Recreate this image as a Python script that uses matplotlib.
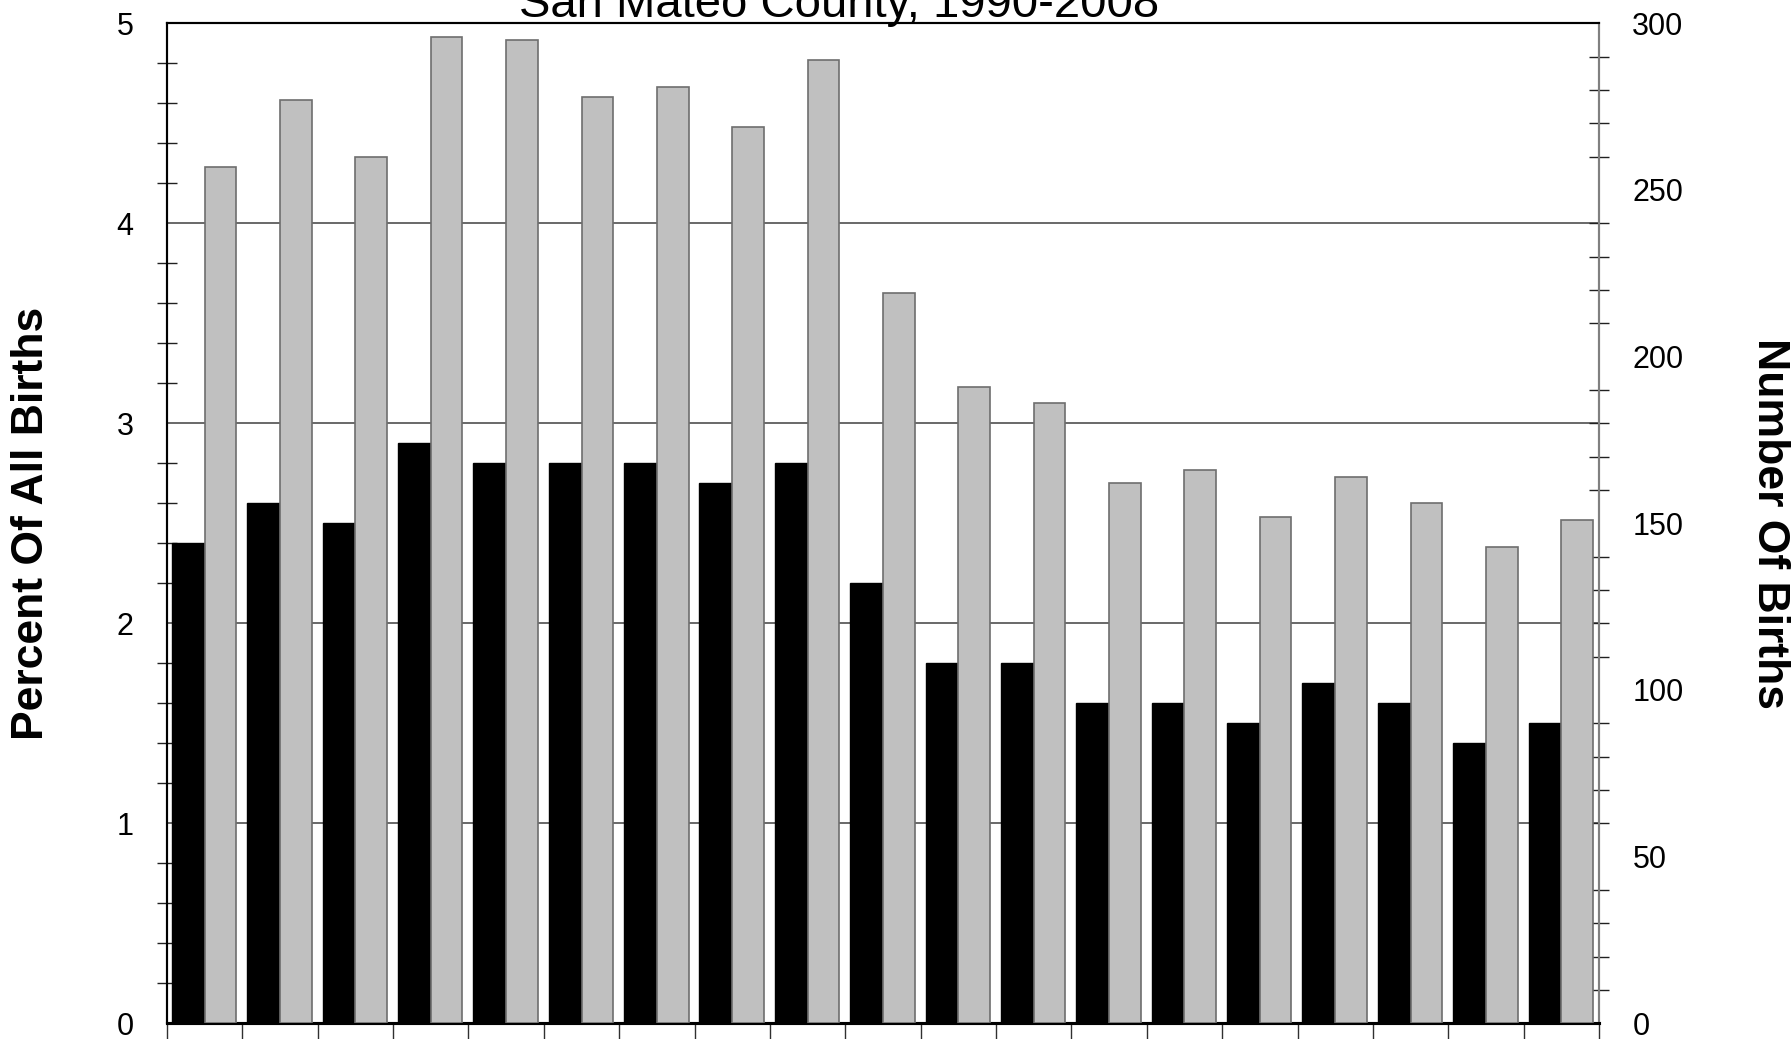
import matplotlib
matplotlib.use("Agg")
from matplotlib import pyplot as plt
from matplotlib.ticker import MultipleLocator
import numpy as np

plt.rcParams['font.family'] = ['Liberation Sans', 'DejaVu Sans']

years = [1990, 1991, 1992, 1993, 1994, 1995, 1996, 1997, 1998, 1999,
         2000, 2001, 2002, 2003, 2004, 2005, 2006, 2007, 2008]
percent = [2.4, 2.6, 2.5, 2.9, 2.8, 2.8, 2.8, 2.7, 2.8, 2.2,
           1.8, 1.8, 1.6, 1.6, 1.5, 1.7, 1.6, 1.4, 1.5]
births = [257, 277, 260, 296, 295, 278, 281, 269, 289, 219,
          191, 186, 162, 166, 152, 164, 156, 143, 151]

W, H = 1792, 1039
fig = plt.figure(figsize=(W / 100, H / 100), dpi=100)
ax = fig.add_axes([167 / W, 15.7 / H, (1599 - 167) / W, (1023.3 - 23.3) / H])
ax2 = ax.twinx()

pos = np.arange(len(years))

# percent bars (left axis)
ax.bar(pos + 0.065, percent, width=0.435, align='edge',
       color='black', edgecolor='black', linewidth=1, zorder=3)
# number of births (right axis)
ax2.bar(pos + 0.5, births, width=0.42, align='edge',
        color='#c0c0c0', edgecolor='#6e6e6e', linewidth=1.2, zorder=3)

ax.set_xlim(0, len(years))
ax.set_ylim(0, 5)
ax2.set_ylim(0, 300)

for y in [1, 2, 3, 4]:
    ax.axhline(y, color='#404040', linewidth=1.1, zorder=1)

ax.yaxis.set_major_locator(MultipleLocator(1))
ax.yaxis.set_minor_locator(MultipleLocator(0.2))
ax2.yaxis.set_major_locator(MultipleLocator(50))
ax2.yaxis.set_minor_locator(MultipleLocator(10))

ax.tick_params(axis='y', which='major', length=0, pad=24, labelsize=22)
ax.tick_params(axis='y', which='minor', direction='inout', length=15,
               width=1, color='#202020')
ax2.tick_params(axis='y', which='major', length=0, pad=24, labelsize=22)
ax2.tick_params(axis='y', which='minor', direction='inout', length=15,
                width=1, color='#202020')

ax.set_xticks(np.arange(len(years) + 1))
ax.set_xticklabels([])
ax.tick_params(axis='x', direction='out', length=20, width=1, color='#303030')

for a in (ax, ax2):
    a.spines['top'].set_linewidth(1.5)
    a.spines['left'].set_linewidth(1.5)
    a.spines['bottom'].set_linewidth(2.2)
    a.spines['right'].set_color('#808080')
    a.spines['right'].set_linewidth(1.5)

fig.text(839 / W, 1 - 17 / H, "San Mateo County, 1990-2008",
         ha='center', va='baseline', fontsize=34)
fig.text(32 / W, 1 - 523 / H, "Percent Of All Births", rotation=90,
         ha='center', va='center', fontsize=32, fontweight='bold')
fig.text(1769 / W, 1 - 523 / H, "Number Of Births", rotation=270,
         ha='center', va='center', fontsize=32, fontweight='bold')

plt.savefig("out.png", dpi=100)
